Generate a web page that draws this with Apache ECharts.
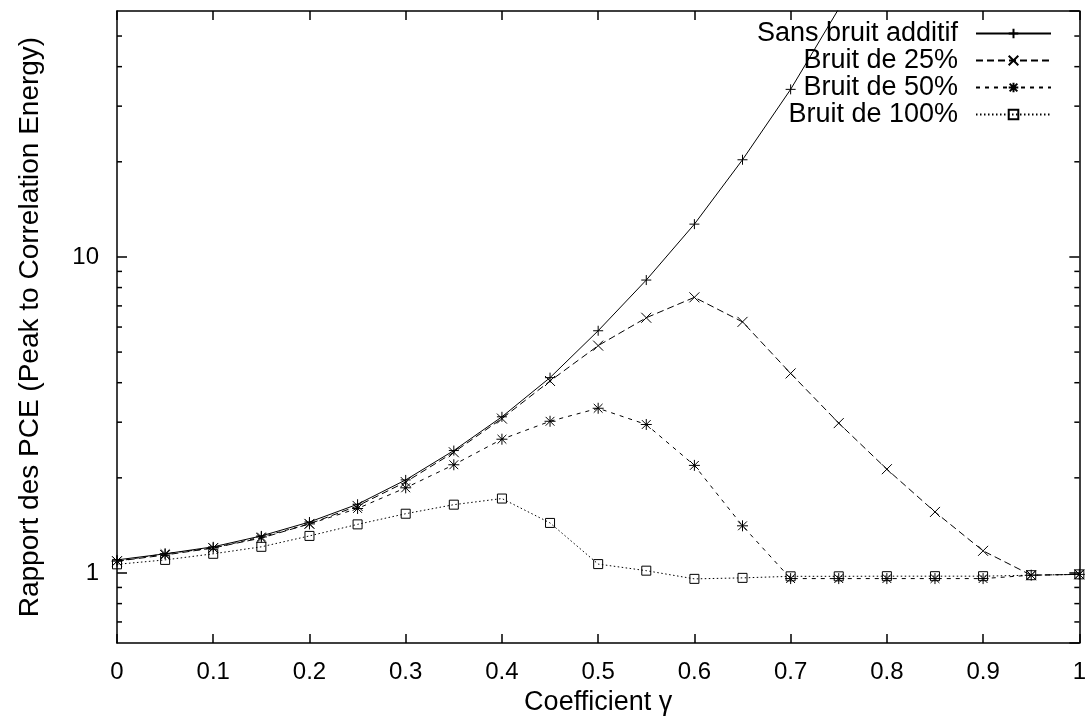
<!DOCTYPE html>
<html>
<head>
<meta charset="utf-8">
<script src="https://cdn.jsdelivr.net/npm/echarts@6/dist/echarts.min.js"></script>
<style>
  html, body { margin: 0; padding: 0; background: #fff; }
  #chart { width: 1089px; height: 721px; }
</style>
</head>
<body>
<div id="chart"></div>
<script>
// Coefficient gamma (x axis)
const gamma = [0, 0.05, 0.1, 0.15, 0.2, 0.25, 0.3, 0.35, 0.4, 0.45, 0.5,
               0.55, 0.6, 0.65, 0.7, 0.75, 0.8, 0.85, 0.9, 0.95, 1];

// PCE ratio for each noise level
const sansBruit = [1.10, 1.15, 1.21, 1.31, 1.45, 1.65, 1.97, 2.44, 3.12, 4.15, 5.84,
                   8.45, 12.7, 20.3, 33.9, 61];
const bruit25 = [1.09, 1.14, 1.20, 1.29, 1.43, 1.63, 1.94, 2.41, 3.08, 4.05, 5.24,
                 6.42, 7.45, 6.23, 4.28, 2.98, 2.13, 1.56, 1.175, 0.984, 0.99];
const bruit50 = [1.09, 1.15, 1.20, 1.30, 1.43, 1.60, 1.86, 2.20, 2.65, 3.02, 3.32,
                 2.95, 2.19, 1.41, 0.96, 0.96, 0.96, 0.96, 0.96, 0.984, 0.99];
const bruit100 = [1.065, 1.10, 1.15, 1.21, 1.31, 1.425, 1.54, 1.645, 1.72, 1.44, 1.067,
                  1.017, 0.958, 0.965, 0.976, 0.976, 0.977, 0.977, 0.977, 0.984, 0.99];

const seriesNames = ['Sans bruit additif', 'Bruit de 25%', 'Bruit de 50%', 'Bruit de 100%'];

// Minor ticks of the logarithmic axis
const minorTicks = [0.7, 0.8, 0.9, 2, 3, 4, 5, 6, 7, 8, 9, 20, 30, 40, 50];

const FONT = 'Liberation Sans, Arial, Helvetica, sans-serif';

const pairs = vals => vals.map((v, i) => [gamma[i], v]);

const SYM_PLUS = 'path://M5,0V10M0,5H10';
const SYM_CROSS = 'path://M0,0L10,10M10,0L0,10';
const SYM_STAR = 'path://M5,0V10M0,5H10M1,1L9,9M9,1L1,9';
const SYM_SQUARE = 'path://M0,0H10V10H0Z';

function lineSeries(name, vals, symbol, size, dash) {
  return {
    type: 'line',
    name: name,
    data: pairs(vals),
    symbol: symbol,
    symbolSize: size,
    showAllSymbol: true,
    clip: true,
    lineStyle: { color: '#000', width: 1, type: dash },
    itemStyle: { color: 'none', borderColor: '#000', borderWidth: 1 },
    emphasis: { disabled: true }
  };
}

const axisLineStyle = { color: '#000', width: 1.5 };

const chart = echarts.init(document.getElementById('chart'), null, { renderer: 'canvas' });

chart.setOption({
  animation: false,
  backgroundColor: '#fff',
  textStyle: { fontFamily: FONT },
  grid: { left: 117, right: 7, top: 11, bottom: 68, containLabel: false },
  legend: {
    data: seriesNames,
    orient: 'vertical',
    align: 'right',
    right: 32,
    top: 15,
    itemWidth: 75,
    itemHeight: 12,
    itemGap: 0,
    textStyle: { fontSize: 27, color: '#000', fontFamily: FONT, padding: [0, 13, 0, 0] },
    selectedMode: false
  },
  xAxis: [{
    type: 'value',
    min: 0, max: 1, interval: 0.1,
    name: 'Coefficient γ',
    nameLocation: 'middle',
    nameGap: 43,
    nameTextStyle: { fontSize: 27, color: '#000', fontFamily: FONT },
    axisLine: { show: true, onZero: false, lineStyle: axisLineStyle },
    axisTick: { show: true, inside: true, length: 9, lineStyle: { color: '#000', width: 1.5 } },
    axisLabel: { fontSize: 24, color: '#000', margin: 17, fontFamily: FONT },
    splitLine: { show: false }
  }, {
    type: 'value',
    position: 'top',
    min: 0, max: 1, interval: 0.1,
    axisLine: { show: true, onZero: false, lineStyle: axisLineStyle },
    axisTick: { show: true, inside: true, length: 9, lineStyle: { color: '#000', width: 1.5 } },
    axisLabel: { show: false },
    splitLine: { show: false }
  }],
  yAxis: [{
    type: 'log',
    logBase: 10,
    min: 0.6, max: 60,
    name: 'Rapport des PCE (Peak to Correlation Energy)',
    nameLocation: 'middle',
    nameRotate: 90,
    nameGap: 73,
    nameTextStyle: { fontSize: 28, color: '#000', fontFamily: FONT },
    axisLine: { show: true, onZero: false, lineStyle: axisLineStyle },
    axisTick: { show: true, inside: true, length: 10, lineStyle: { color: '#000', width: 1.5 } },
    axisLabel: { fontSize: 24, color: '#000', margin: 18, showMinLabel: false, showMaxLabel: false, fontFamily: FONT },
    splitLine: { show: false }
  }, {
    type: 'log',
    logBase: 10,
    position: 'right',
    min: 0.6, max: 60,
    axisLine: { show: true, onZero: false, lineStyle: axisLineStyle },
    axisTick: { show: true, inside: true, length: 10, lineStyle: { color: '#000', width: 1.5 } },
    axisLabel: { show: false },
    splitLine: { show: false }
  }],
  series: [
    lineSeries(seriesNames[0], sansBruit, SYM_PLUS, 10, 'solid'),
    lineSeries(seriesNames[1], bruit25, SYM_CROSS, 10, [7, 4]),
    lineSeries(seriesNames[2], bruit50, SYM_STAR, 11, [4, 5]),
    lineSeries(seriesNames[3], bruit100, SYM_SQUARE, 9, [1.5, 2.5]),
    {
      // minor ticks on the left and right borders
      type: 'custom',
      silent: true,
      xAxisIndex: 0,
      yAxisIndex: 0,
      data: minorTicks.map(v => [0, v]),
      renderItem: function (params, api) {
        const left = api.coord([0, api.value(1)]);
        const right = api.coord([1, api.value(1)]);
        const style = { stroke: '#000', lineWidth: 1.5 };
        return {
          type: 'group',
          children: [
            { type: 'line', shape: { x1: left[0], y1: left[1], x2: left[0] + 5, y2: left[1] }, style: style },
            { type: 'line', shape: { x1: right[0] - 5, y1: right[1], x2: right[0], y2: right[1] }, style: style }
          ]
        };
      }
    }
  ]
});
</script>
</body>
</html>
